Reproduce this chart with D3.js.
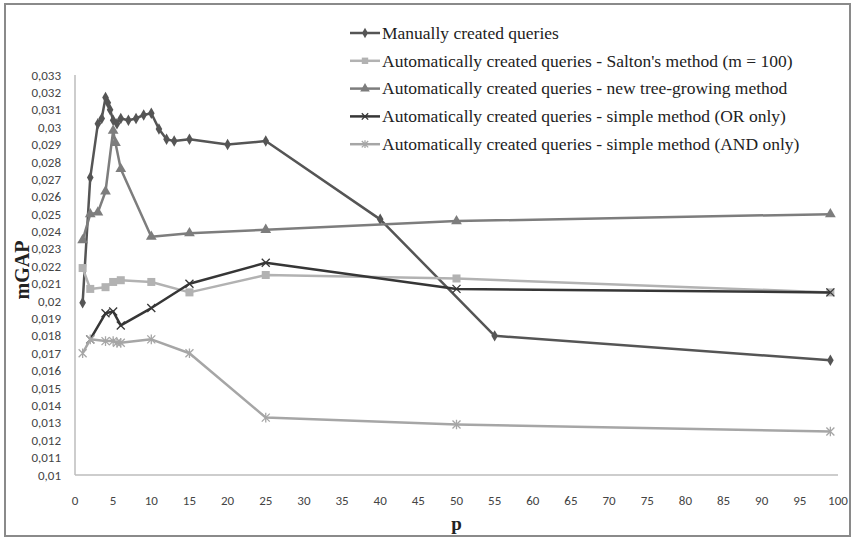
<!DOCTYPE html>
<html><head><meta charset="utf-8">
<script src="https://cdn.jsdelivr.net/npm/d3@7"></script>
<style>body{margin:0;background:#fff}svg{display:block}</style>
</head><body>
<svg id="c" width="855" height="540"></svg>
<script>
// ---- data ----
const seriesNames = [
  "Manually created queries",
  "Automatically created queries - Salton's method (m = 100)",
  "Automatically created queries - new tree-growing method",
  "Automatically created queries - simple method (OR only)",
  "Automatically created queries - simple method (AND only)"
];
const manualP = [1, 2, 3, 3.5, 4, 4.3, 4.6, 5, 5.5, 6, 7, 8, 9, 10, 11, 12, 13, 15, 20, 25, 40, 55, 99];
const manualV = [0.0199, 0.0271, 0.0302, 0.0305, 0.0317, 0.0314, 0.0310, 0.0304, 0.0302, 0.0305, 0.0304, 0.0305, 0.0307, 0.0308, 0.0299, 0.0293, 0.0292, 0.0293, 0.0290, 0.0292, 0.0247, 0.0180, 0.0166];
const saltonP = [1, 2, 4, 5, 6, 10, 15, 25, 50, 99];
const saltonV = [0.0219, 0.0207, 0.0208, 0.0211, 0.0212, 0.0211, 0.0205, 0.0215, 0.0213, 0.0205];
const treeP = [1, 2, 3, 4, 5, 5.3, 6, 10, 15, 25, 50, 99];
const treeV = [0.0235, 0.0250, 0.0251, 0.0263, 0.0298, 0.0291, 0.0276, 0.0237, 0.0239, 0.0241, 0.0246, 0.0250];
const orP = [2, 4, 5, 6, 10, 15, 25, 50, 99];
const orV = [0.0178, 0.0193, 0.0194, 0.0186, 0.0196, 0.0210, 0.0222, 0.0207, 0.0205];
const andP = [1, 2, 4, 5, 5.5, 6, 10, 15, 25, 50, 99];
const andV = [0.0170, 0.0178, 0.0177, 0.0177, 0.0176, 0.0176, 0.0178, 0.0170, 0.0133, 0.0129, 0.0125];
const xTicks = d3.range(0, 101, 5);
const yTicks = d3.range(10, 34).map(d => d / 1000);

// ---- layout ----
const svg = d3.select("#c");
const x = d3.scaleLinear().domain([0, 100]).range([75, 838]);
const y = d3.scaleLinear().domain([0.01, 0.033]).range([475, 75]);

svg.append("rect").attr("x", 5).attr("y", 4).attr("width", 845).attr("height", 532)
  .attr("fill", "#fff").attr("stroke", "#8a8a8a").attr("stroke-width", 2);

// axes lines
svg.append("line").attr("x1", x(0)).attr("x2", x(0)).attr("y1", y(0.033)).attr("y2", y(0.01))
  .attr("stroke", "#bdbdbd").attr("stroke-width", 1.5);
svg.append("line").attr("x1", x(0)).attr("x2", x(100)).attr("y1", y(0.01)).attr("y2", y(0.01))
  .attr("stroke", "#bdbdbd").attr("stroke-width", 1.5);

const fmt = v => { let s = d3.format(".3~f")(v); return s.replace(".", ","); };
const tickFont = "Carlito, 'Open Sans', sans-serif";
svg.append("g").selectAll("text").data(yTicks).join("text")
  .attr("x", 61).attr("y", d => y(d)).attr("dy", "0.35em").attr("text-anchor", "end")
  .attr("font-family", tickFont).attr("font-size", 13).attr("fill", "#444")
  .text(fmt);
svg.append("g").selectAll("text").data(xTicks).join("text")
  .attr("x", d => x(d)).attr("y", 500).attr("dy", "0.35em").attr("text-anchor", "middle")
  .attr("font-family", tickFont).attr("font-size", 13).attr("fill", "#444")
  .text(d => d);

svg.append("text").attr("transform", "translate(22,270) rotate(-90)").attr("text-anchor", "middle")
  .attr("dy", "0.35em").attr("font-family", "'Liberation Serif', serif").attr("font-weight", "bold")
  .attr("font-size", 20).attr("fill", "#222").text("mGAP");
svg.append("text").attr("x", x(50)).attr("y", 524).attr("text-anchor", "middle").attr("dy", "0.3em")
  .attr("font-family", "'Liberation Serif', serif").attr("font-weight", "bold")
  .attr("font-size", 19).attr("fill", "#222").text("p");

// ---- series ----
const series = [
  {p: manualP, v: manualV, color: "#555555", marker: "diamond"},
  {p: saltonP, v: saltonV, color: "#b2b2b2", marker: "square"},
  {p: treeP, v: treeV, color: "#7d7d7d", marker: "triangle"},
  {p: orP, v: orV, color: "#363636", marker: "x"},
  {p: andP, v: andV, color: "#a6a6a6", marker: "star"}
];

function drawMarker(g, type, cx, cy, color, s) {
  s = s || 1;
  if (type === "diamond") {
    g.append("path").attr("d", d3.symbol(d3.symbolDiamond, 38 * s)()).attr("transform", `translate(${cx},${cy})`).attr("fill", color);
  } else if (type === "square") {
    g.append("rect").attr("x", cx - 4 * s).attr("y", cy - 4 * s).attr("width", 8 * s).attr("height", 8 * s).attr("fill", color);
  } else if (type === "triangle") {
    g.append("path").attr("d", d3.symbol(d3.symbolTriangle, 50 * s)()).attr("transform", `translate(${cx},${cy})`).attr("fill", color);
  } else if (type === "x") {
    const r = 4 * s;
    g.append("path").attr("d", `M${cx - r},${cy - r}L${cx + r},${cy + r}M${cx - r},${cy + r}L${cx + r},${cy - r}`)
      .attr("stroke", color).attr("stroke-width", 1.3);
  } else if (type === "star") {
    const r = 4 * s;
    g.append("path").attr("d", `M${cx - r},${cy - r}L${cx + r},${cy + r}M${cx - r},${cy + r}L${cx + r},${cy - r}M${cx},${cy - r * 1.2}L${cx},${cy + r * 1.2}`)
      .attr("stroke", color).attr("stroke-width", 1.3);
  }
}

const line = d3.line().x(d => x(d[0])).y(d => y(d[1]));
series.forEach(s => {
  const pts = s.p.map((p, i) => [p, s.v[i]]);
  const g = svg.append("g");
  g.append("path").datum(pts).attr("d", line).attr("fill", "none")
    .attr("stroke", s.color).attr("stroke-width", 2.5).attr("stroke-linejoin", "round");
  pts.forEach(d => drawMarker(g, s.marker, x(d[0]), y(d[1]), s.color));
});

// ---- legend ----
const lg = svg.append("g");
seriesNames.forEach((name, i) => {
  const ly = 33 + i * 27.8;
  const s = series[i];
  lg.append("line").attr("x1", 350).attr("x2", 380).attr("y1", ly).attr("y2", ly)
    .attr("stroke", s.color).attr("stroke-width", 2.5);
  drawMarker(lg, s.marker, 365, ly, s.color, 0.8);
  lg.append("text").attr("x", 382).attr("y", ly).attr("dy", "0.33em")
    .attr("font-family", "'Liberation Serif', serif").attr("font-size", 17.5).attr("fill", "#222")
    .text(name);
});
</script>
</body></html>
